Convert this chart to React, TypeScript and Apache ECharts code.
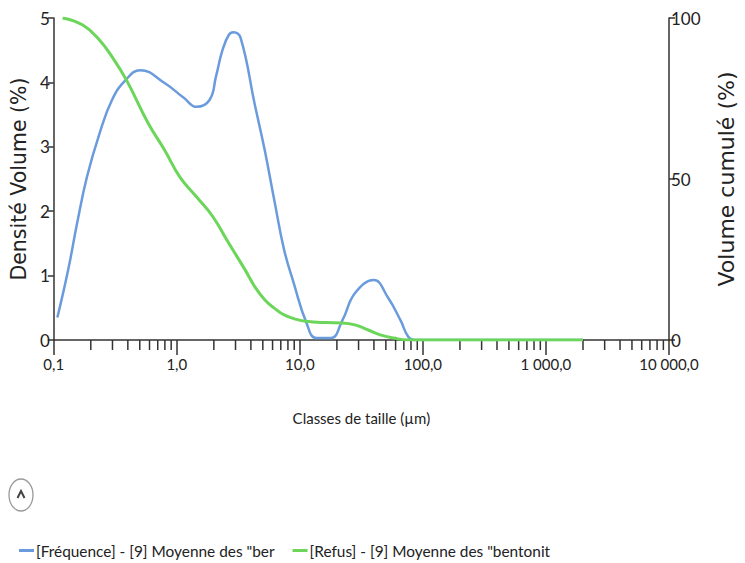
import React, { useEffect, useRef } from "react";
import * as echarts from "echarts";

// X axis ticks (log scale, µm)
const xTickValues = [0.1, 1, 10, 100, 1000, 10000];
const xTickLabels = ["0,1", "1,0", "10,0", "100,0", "1 000,0", "10 000,0"];
const minorFactors = [2, 3, 4, 5, 6, 7, 8, 9];
const minorDecades = [0.1, 1, 10, 100, 1000];

// [Fréquence] series (left axis, %)
const freqSizes = [0.107, 0.131, 0.155, 0.186, 0.235, 0.298, 0.385, 0.505, 0.795, 1.14, 1.45, 1.85, 2.08, 2.35, 2.65, 2.89, 3.3, 4.31, 5.18, 6.2, 7.45, 8.93, 11.25, 13.6, 17.8, 22.2, 28.1, 39.8, 52, 66, 76, 85, 2000];
const freqValues = [0.35, 1.09, 1.82, 2.53, 3.2, 3.73, 4.04, 4.19, 3.99, 3.76, 3.62, 3.73, 4.09, 4.5, 4.74, 4.78, 4.69, 3.65, 2.95, 2.17, 1.4, 0.88, 0.28, 0.03, 0.03, 0.31, 0.73, 0.93, 0.66, 0.3, 0.05, 0, 0];

// [Refus] series (right axis, %)
const refusSizes = [0.118, 0.172, 0.235, 0.298, 0.39, 0.584, 0.795, 1.06, 1.45, 1.97, 2.64, 3.6, 4.31, 5.2, 6.2, 7.45, 9.4, 11.2, 16.3, 22, 28, 36, 45, 58, 75, 2000];
const refusValues = [100, 97.8, 93.2, 87.9, 80.7, 67.4, 59, 50.6, 44.4, 38.2, 30.1, 21.7, 16.5, 12.4, 9.9, 7.8, 6.4, 5.8, 5.4, 5.3, 4.7, 3.1, 1.6, 0.6, 0, 0];

const seriesNames = ['[Fréquence] - [9] Moyenne des "ber', '[Refus] - [9] Moyenne des "bentonit'];
const leftAxisName = "Densité Volume (%)";
const rightAxisName = "Volume cumulé (%)";
const xAxisName = "Classes de taille (µm)";

const FONT = 'Lato, "Open Sans", sans-serif';
const WIDE = '"DejaVu Sans", Verdana, sans-serif';
const AXIS_COLOR = "#333";
const TEXT_COLOR = "#222";

export default function App() {
  const ref = useRef<HTMLDivElement>(null);

  useEffect(() => {
    if (!ref.current) return;
    const chart = echarts.init(ref.current, undefined, { renderer: "svg" });
    const minorTicks: number[][] = [];
    minorDecades.forEach((d) => minorFactors.forEach((f) => minorTicks.push([d * f, 0])));

    const option: any = {
      animation: false,
      backgroundColor: "#fff",
      grid: { left: 52, right: 58, top: 18, bottom: 223, containLabel: false },
      legend: {
        left: 14,
        top: 538,
        itemGap: 18,
        itemWidth: 15,
        itemHeight: 3,
        icon: "rect",
        textStyle: { fontFamily: FONT, fontSize: 15.4, color: TEXT_COLOR, padding: [0, 0, 0, -3] },
        data: seriesNames,
      },
      xAxis: {
        type: "log",
        logBase: 10,
        min: 0.1,
        max: 10000,
        name: xAxisName,
        nameLocation: "middle",
        nameGap: 70,
        nameTextStyle: { fontFamily: FONT, fontSize: 15, color: TEXT_COLOR },
        axisLine: { show: true, lineStyle: { color: AXIS_COLOR, width: 1.5 } },
        axisTick: { show: true, length: 15, lineStyle: { color: AXIS_COLOR, width: 1.5 } },
        splitLine: { show: false },
        axisLabel: {
          margin: 16,
          fontFamily: FONT,
          fontSize: 15,
          color: TEXT_COLOR,
          formatter: (v: number) => {
            const i = xTickValues.findIndex((t) => Math.abs(Math.log10(t) - Math.log10(v)) < 1e-6);
            return i >= 0 ? xTickLabels[i] : "";
          },
        },
      },
      yAxis: [
        {
          type: "value",
          min: 0,
          max: 5,
          interval: 1,
          position: "left",
          name: leftAxisName,
          nameLocation: "middle",
          nameRotate: 90,
          nameGap: 22,
          nameTextStyle: { fontFamily: WIDE, fontSize: 20.5, color: TEXT_COLOR },
          axisLine: { show: true, lineStyle: { color: AXIS_COLOR, width: 1.5 } },
          axisTick: { show: true, length: 6, lineStyle: { color: AXIS_COLOR, width: 1.5 } },
          splitLine: { show: false },
          axisLabel: { margin: 4, fontFamily: FONT, fontSize: 17, color: TEXT_COLOR },
        },
        {
          type: "value",
          min: 0,
          max: 100,
          interval: 50,
          position: "right",
          name: rightAxisName,
          nameLocation: "middle",
          nameRotate: 90,
          nameGap: 46,
          nameTextStyle: { fontFamily: WIDE, fontSize: 22, color: TEXT_COLOR },
          axisLine: { show: true, lineStyle: { color: AXIS_COLOR, width: 1.5 } },
          axisTick: { show: true, length: 6, lineStyle: { color: AXIS_COLOR, width: 1.5 } },
          splitLine: { show: false },
          axisLabel: { margin: 2, fontFamily: FONT, fontSize: 17, color: TEXT_COLOR },
        },
      ],
      graphic: [
        {
          type: "ellipse",
          shape: { cx: 21, cy: 495, rx: 12, ry: 16 },
          style: { fill: "#fff", stroke: "#9a9a9a", lineWidth: 1.3 },
        },
        {
          type: "polyline",
          shape: { points: [[17.5, 498], [21, 491], [24.5, 498]] },
          style: { stroke: "#444", lineWidth: 2, fill: null },
        },
      ],
      series: [
        {
          type: "custom",
          name: "minorTicks",
          xAxisIndex: 0,
          yAxisIndex: 0,
          silent: true,
          clip: false,
          z: 1,
          data: minorTicks,
          renderItem: (_params: any, api: any) => {
            const p = api.coord([api.value(0), 0]);
            return {
              type: "line",
              shape: { x1: p[0], y1: p[1], x2: p[0], y2: p[1] + 10 },
              style: { stroke: AXIS_COLOR, lineWidth: 1.5 },
            };
          },
        },
        {
          type: "line",
          name: seriesNames[0],
          xAxisIndex: 0,
          yAxisIndex: 0,
          smooth: 0.45,
          showSymbol: false,
          symbol: "none",
          color: "#6A9BDC",
          lineStyle: { width: 2.5, color: "#6A9BDC" },
          data: freqSizes.map((s, i) => [s, freqValues[i]]),
          z: 3,
        },
        {
          type: "line",
          name: seriesNames[1],
          xAxisIndex: 0,
          yAxisIndex: 1,
          smooth: 0.45,
          showSymbol: false,
          symbol: "none",
          color: "#6BD65A",
          lineStyle: { width: 3, color: "#6BD65A" },
          data: refusSizes.map((s, i) => [s, refusValues[i]]),
          z: 4,
        },
      ],
    };
    chart.setOption(option);
    return () => chart.dispose();
  }, []);

  return (
    <div
      ref={ref}
      style={{ position: "fixed", left: 0, top: 0, width: 745, height: 563, background: "#fff" }}
    />
  );
}
